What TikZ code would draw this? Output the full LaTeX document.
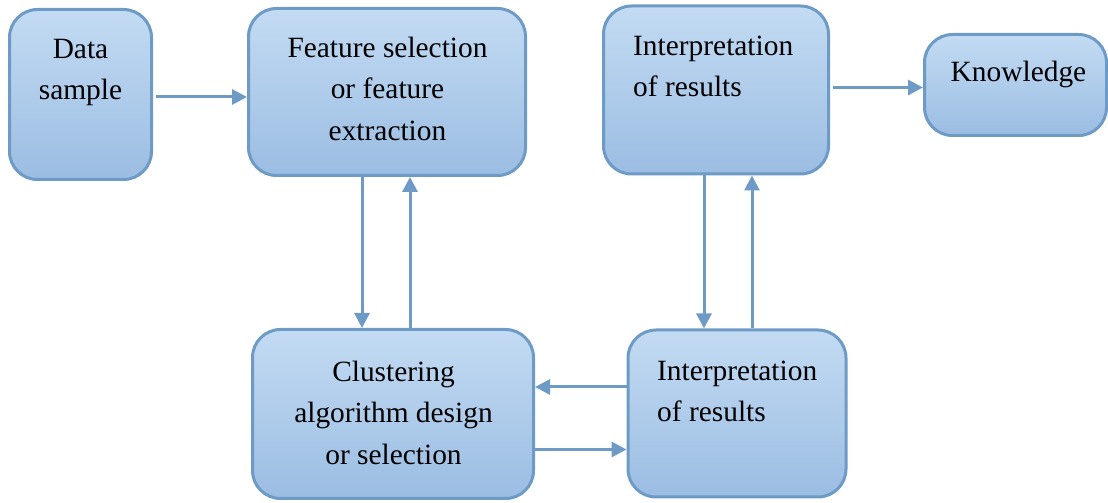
\documentclass[tikz,border=0pt]{standalone}
\usepackage{fontspec}
\newfontfamily\diagserif[Extension=.ttf, UprightFont=*-Regular]{LiberationSerif}
\usetikzlibrary{arrows.meta}
\definecolor{bordc}{HTML}{6E9AC6}
\definecolor{topc}{HTML}{C3DBF3}
\definecolor{botc}{HTML}{9BBDE2}
\tikzset{
  boxnode/.style={draw=bordc, line width=3pt, rounded corners=28pt, top color=topc, bottom color=botc, inner sep=0pt},
  txt/.style={inner sep=0pt, font=\diagserif\fontsize{29.4}{41.5}\selectfont},
  arr/.style={draw=bordc, line width=3pt, -{Triangle[length=15pt,width=15pt]}},
}
\begin{document}
\begin{tikzpicture}[x=1pt,y=1pt]
\useasboundingbox (0,0) rectangle (1108,503);
% boxes (y = 503 - pixel y)
\node[boxnode, minimum width=142pt, minimum height=170pt] (data) at (80.5,408.5) {};
\node[boxnode, minimum width=277pt, minimum height=167pt] (feat) at (387,411) {};
\node[boxnode, minimum width=225pt, minimum height=168pt] (interA) at (716,413) {};
\node[boxnode, minimum width=182pt, minimum height=101pt] (know) at (1015.5,418) {};
\node[boxnode, minimum width=281pt, minimum height=169pt] (clus) at (393,89) {};
\node[boxnode, minimum width=218pt, minimum height=167pt] (interB) at (737,89.5) {};
% texts
\node[txt, align=center, anchor=north] (tdata) at (80.5,474) {\strut Data\\sample};
\node[txt, align=center, anchor=north] (tfeat) at (387.5,475) {\strut Feature selection\\or feature\\extraction};
\node[txt, align=left, anchor=north west] (tinterA) at (633,477) {\strut Interpretation\\of results};
\node[txt, align=center, anchor=north] (tknow) at (1018.5,451) {\strut Knowledge};
\node[txt, align=center, anchor=north] (tclus) at (393.5,151) {\strut Clustering\\algorithm design\\or selection};
\node[txt, align=left, anchor=north west] (tinterB) at (657,152) {\strut Interpretation\\of results};
% connectors
\draw[arr, shorten <=3pt] ([yshift=-2.5pt]data.east) -- ([yshift=-2.5pt]data.east -| feat.west);
\draw[arr] ([xshift=-25pt]feat.south) -- ([xshift=-25pt]feat.south |- clus.north);
\draw[arr] ([xshift=23pt]feat.south |- clus.north) -- ([xshift=23pt]feat.south);
\draw[arr] ([xshift=-12pt]interA.south) -- ([xshift=-12pt]interA.south |- interB.north);
\draw[arr] ([xshift=36pt]interA.south |- interB.north) -- ([xshift=36pt]interA.south);
\draw[arr] ([yshift=26.5pt]interB.west) -- ([yshift=26.5pt]interB.west -| clus.east);
\draw[arr] ([yshift=-35.5pt]clus.east) -- ([yshift=-35.5pt]clus.east -| interB.west);
\draw[arr, shorten <=3pt] ([yshift=2.5pt]interA.east) -- ([yshift=2.5pt]interA.east -| know.west);
\end{tikzpicture}
\end{document}
